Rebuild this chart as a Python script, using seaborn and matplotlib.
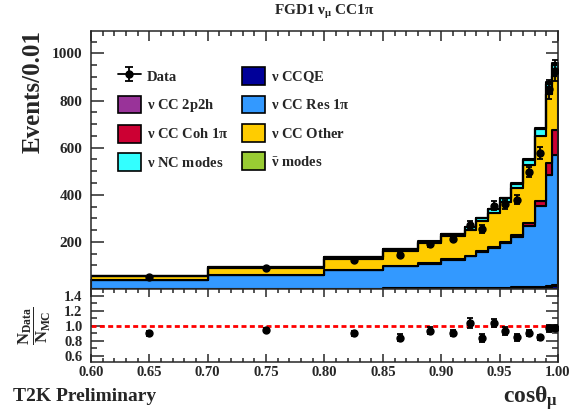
import numpy as np
import pandas as pd
import matplotlib
matplotlib.use("Agg")
import matplotlib.pyplot as plt
from matplotlib.patches import Patch
from matplotlib.ticker import MultipleLocator, FuncFormatter, FormatStrFormatter
import seaborn as sns

# cos(theta_mu) binning
bin_edges = [0.60, 0.70, 0.80, 0.85, 0.88, 0.90, 0.92, 0.93, 0.94, 0.95,
             0.96, 0.97, 0.98, 0.99, 0.995, 1.00]

# MC components, events / 0.01
ccqe   = [0.5, 1, 1.5, 2, 2.5, 3, 3, 3.5, 4, 4, 5, 6, 8, 10, 12]
cc2p2h = [0.2, 0.3, 0.5, 0.6, 0.7, 0.8, 0.9, 1, 1, 1.2, 1.4, 1.6, 2, 2.5, 3]
res1pi = [37, 57, 78, 95, 105, 120, 135, 153, 170, 188, 215, 258, 344, 472, 555]
coh1pi = [0.3, 0.5, 1, 1.5, 2, 2, 3, 3, 4, 5, 6, 14, 20, 50, 106]
other  = [16, 32, 48, 64, 83, 99, 110, 129, 145, 171, 200, 245, 274, 292, 226]
nc     = [1.5, 3, 5, 7, 8, 9, 10, 12, 14, 15, 20, 25, 33, 45, 50]
nubar  = [0.3, 0.5, 0.8, 1, 1.2, 1.4, 1.5, 1.7, 2, 2.2, 2.5, 3, 4, 5, 6]

# data, events / 0.01
data     = [50, 89, 121, 144, 189, 213, 273, 255, 353, 359, 379, 497, 577, 848, 927]
data_err = [2, 3, 5, 7, 10, 10, 16, 16, 19, 19, 20, 22, 24, 41, 43]

labels = {
    "ccqe": r"$\nu$ CCQE",
    "cc2p2h": r"$\nu$ CC 2p2h",
    "res1pi": r"$\nu$ CC Res 1$\pi$",
    "coh1pi": r"$\nu$ CC Coh 1$\pi$",
    "other": r"$\nu$ CC Other",
    "nc": r"$\nu$ NC modes",
    "nubar": r"$\bar{\nu}$ modes",
}
colors = {
    "ccqe": "#000099",
    "cc2p2h": "#993399",
    "res1pi": "#3399ff",
    "coh1pi": "#cc0033",
    "other": "#ffcc00",
    "nc": "#33ffff",
    "nubar": "#99cc33",
}
components = {"ccqe": ccqe, "cc2p2h": cc2p2h, "res1pi": res1pi, "coh1pi": coh1pi,
              "other": other, "nc": nc, "nubar": nubar}

edges = np.array(bin_edges)
centers = 0.5 * (edges[:-1] + edges[1:])

rows = []
for name, vals in components.items():
    for c, v in zip(centers, vals):
        rows.append({"center": c, "component": name, "value": v})
df = pd.DataFrame(rows)

total = np.sum([np.array(v, dtype=float) for v in components.values()], axis=0)
ratio = np.array(data) / total
ratio_err = np.array(data_err) / total

sns.set_style("ticks")
plt.rcParams["font.family"] = ["Liberation Serif", "DejaVu Serif"]
plt.rcParams["font.weight"] = "bold"
plt.rcParams["mathtext.fontset"] = "custom"
plt.rcParams["mathtext.rm"] = "Liberation Serif:bold"
plt.rcParams["mathtext.it"] = "Liberation Serif:bold"
plt.rcParams["mathtext.bf"] = "Liberation Serif:bold"
plt.rcParams["axes.linewidth"] = 1.1

fig = plt.figure(figsize=(5.74, 4.15), dpi=100)
ax = fig.add_axes([0.1585, 0.3036, 0.8136, 0.6217])
rax = fig.add_axes([0.1585, 0.1277, 0.8136, 0.1759])

# seaborn stacks the first hue level on top
stack_order = ["nubar", "nc", "other", "coh1pi", "res1pi", "cc2p2h", "ccqe"]
sns.histplot(data=df, x="center", weights="value", hue="component",
             hue_order=stack_order, palette=colors, bins=bin_edges,
             multiple="stack", element="step", fill=True, alpha=1,
             edgecolor="black", linewidth=1.5, legend=False, ax=ax)

ax.errorbar(centers, data, yerr=data_err, fmt="o", color="black", ms=5,
            elinewidth=1.3, capsize=2.5, capthick=1.3, zorder=5)
data_proxy = ax.errorbar([np.nan], [np.nan], yerr=[1], fmt="-o", color="black",
                         ms=5, lw=1.3, elinewidth=1.3, capsize=3, capthick=1.3)

ax.set_xlim(0.6, 1.0)
ax.set_ylim(0, 1095)
ax.set_xlabel("")
ax.set_ylabel("")
ax.yaxis.set_major_locator(MultipleLocator(200))
ax.yaxis.set_minor_locator(MultipleLocator(50))
ax.yaxis.set_major_formatter(FuncFormatter(lambda v, p: "" if v == 0 else f"{v:.0f}"))
ax.tick_params(labelbottom=False)

# ratio panel
rax.axhline(1.0, color="red", ls=(0, (1.8, 1.2)), lw=2, zorder=2)
rax.errorbar(centers, ratio, yerr=ratio_err, fmt="o", color="black", ms=5,
             elinewidth=1.3, capsize=2.5, capthick=1.3, zorder=5)
rax.set_xlim(0.6, 1.0)
rax.set_ylim(0.515, 1.49)
rax.yaxis.set_major_locator(MultipleLocator(0.2))
rax.yaxis.set_minor_locator(MultipleLocator(0.1))
rax.yaxis.set_major_formatter(FormatStrFormatter("%.1f"))
rax.xaxis.set_major_formatter(FormatStrFormatter("%.2f"))

for a in (ax, rax):
    a.xaxis.set_major_locator(MultipleLocator(0.05))
    a.xaxis.set_minor_locator(MultipleLocator(0.01))
    a.tick_params(which="both", direction="in", top=True, right=True,
                  width=1.1, labelsize=11, pad=6)
    a.tick_params(which="major", length=9)
    a.tick_params(which="minor", length=4.5)
ax.tick_params(axis="x", which="major", length=7)
ax.tick_params(axis="x", which="minor", length=3.5)
rax.tick_params(axis="x", which="major", length=6, pad=3, labelsize=10.5)
rax.tick_params(axis="x", which="minor", length=3)
rax.tick_params(axis="y", labelsize=10.5)

# legend, filled row by row like the original
h = {k: Patch(facecolor=colors[k], edgecolor="black", linewidth=1.2) for k in colors}
handles = [data_proxy, h["cc2p2h"], h["coh1pi"], h["nc"],
           h["ccqe"], h["res1pi"], h["other"], h["nubar"]]
texts = ["Data", labels["cc2p2h"], labels["coh1pi"], labels["nc"],
         labels["ccqe"], labels["res1pi"], labels["other"], labels["nubar"]]
fig.legend(handles, texts, ncol=2, loc="upper left",
           bbox_to_anchor=(0.205, 0.838), frameon=False, fontsize=10.5,
           handlelength=1.6, handleheight=1.5, handletextpad=0.4,
           labelspacing=0.72, columnspacing=0.9, borderpad=0, borderaxespad=0)

fig.text(0.565, 0.972, r"FGD1 $\nu_{\mu}$ CC1$\pi$", ha="center", va="center", fontsize=11)
fig.text(33 / 574, 1 - 30 / 415, "Events/0.01", rotation=90, ha="center", va="top", fontsize=18)
fig.text(35 / 574, 1 - 326 / 415, r"$\dfrac{N_{Data}}{N_{MC}}$", rotation=90,
         ha="center", va="center", fontsize=12)
fig.text(0.972, 0.008, r"cos$\theta_{\mu}$", ha="right", va="bottom", fontsize=17)
fig.text(0.022, 0.045, "T2K Preliminary", ha="left", va="center", fontsize=14)

fig.savefig("out.png", dpi=100)
